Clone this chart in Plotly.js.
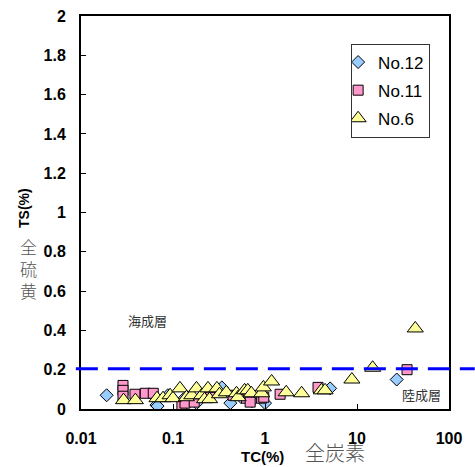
<!DOCTYPE html>
<html><head><meta charset="utf-8">
<script src="https://cdn.plot.ly/plotly-3.0.1.min.js"></script>
<style>html,body{margin:0;padding:0;background:#fff}#c{width:475px;height:467px}</style>
</head><body><div id="c"></div>
<script>
// ---- data ----
const no12_tc = [0.019, 0.066, 0.068, 0.088, 0.13, 0.18, 0.34, 0.42, 0.55, 0.72, 1.0, 5.1, 27];
const no12_ts = [0.07, 0.02, 0.015, 0.07, 0.05, 0.03, 0.11, 0.03, 0.06, 0.04, 0.03, 0.105, 0.15];

const no11_tc = [0.0286, 0.0286, 0.0286, 0.0386, 0.05, 0.061, 0.125, 0.135, 0.17, 0.25, 0.45, 0.63, 0.69, 0.92, 0.97, 1.46, 3.77, 35];
const no11_ts = [0.12, 0.095, 0.065, 0.075, 0.08, 0.08, 0.015, 0.03, 0.035, 0.06, 0.07, 0.055, 0.035, 0.055, 0.06, 0.075, 0.11, 0.2];

const no6_tc = [0.029, 0.039, 0.067, 0.078, 0.093, 0.1, 0.119, 0.14, 0.16, 0.18, 0.205, 0.22, 0.24, 0.25, 0.30, 0.32, 0.38, 0.49, 0.51, 0.6, 0.65, 0.71, 0.92, 0.96, 1.18, 1.7, 2.5, 4.1, 4.5, 8.8, 14.8, 43];
const no6_ts = [0.045, 0.045, 0.055, 0.055, 0.07, 0.055, 0.105, 0.06, 0.07, 0.105, 0.07, 0.05, 0.105, 0.05, 0.105, 0.075, 0.085, 0.08, 0.06, 0.095, 0.095, 0.08, 0.08, 0.11, 0.14, 0.085, 0.08, 0.095, 0.095, 0.15, 0.21, 0.41];

const seriesNames = ["No.12", "No.11", "No.6"];
const boundaryTS = 0.205;
const xTickVals = [0.01, 0.1, 1, 10, 100];
const xTickText = ["0.01", "0.1", "1", "10", "100"];
const yTickVals = [0, 0.2, 0.4, 0.6, 0.8, 1, 1.2, 1.4, 1.6, 1.8, 2];
const yTickText = ["0", "0.2", "0.4", "0.6", "0.8", "1", "1.2", "1.4", "1.6", "1.8", "2"];

const line = {color: "#000", width: 1};
const traces = [
  {x: no12_tc, y: no12_ts, name: seriesNames[0], type: "scatter", mode: "markers", legendgroup: "a",
   marker: {symbol: "diamond", size: 10, color: "#99CCFF", line: line}},
  {x: no11_tc, y: no11_ts, name: seriesNames[1], type: "scatter", mode: "markers", legendgroup: "b",
   marker: {symbol: "square", size: 10, color: "#FF99CC", line: line}},
  {x: no6_tc, y: no6_ts, name: seriesNames[2], type: "scatter", mode: "markers", legendgroup: "c",
   marker: {symbol: "triangle-up", size: 14, color: "#FFFF99", line: line}}
];

const sans = "Liberation Sans, Arial, sans-serif";
const tickFont = {family: sans, size: 16, color: "#000", weight: "bold"};
const layout = {
  width: 475, height: 467,
  margin: {l: 81, r: 26, t: 16, b: 58, pad: 0},
  paper_bgcolor: "#fff", plot_bgcolor: "#fff",
  showlegend: true,
  legend: {x: 0.734, y: 0.93, xanchor: "left", yanchor: "top", bgcolor: "#fff",
           bordercolor: "#333", borderwidth: 1, font: {family: sans, size: 17, color: "#000"},
           traceorder: "grouped", tracegroupgap: 3, indentation: -14},
  xaxis: {type: "log", range: [-2, 2], tickvals: xTickVals, ticktext: xTickText,
          ticks: "inside", ticklen: 5, tickcolor: "#000", tickwidth: 1,
          showline: true, linecolor: "#000", linewidth: 2, mirror: true,
          showgrid: false, zeroline: false, tickfont: tickFont, ticklabelstandoff: 14},
  yaxis: {range: [0, 2], tickvals: yTickVals, ticktext: yTickText,
          ticks: "inside", ticklen: 5, tickcolor: "#000", tickwidth: 1,
          showline: true, linecolor: "#000", linewidth: 2, mirror: true,
          showgrid: false, zeroline: false, tickfont: tickFont, ticklabelstandoff: 10},
  shapes: [{type: "line", xref: "paper", yref: "y", x0: -0.014, x1: 1.07, y0: boundaryTS, y1: boundaryTS,
            line: {color: "#0000FF", width: 3, dash: "22px,10px"}}],
  annotations: [
    {text: "TC(%)", xref: "paper", yref: "paper", x: (262 - 81) / 368, y: (409 - 456) / 393, xanchor: "center", yanchor: "middle",
     showarrow: false, font: {family: sans, size: 15, color: "#000", weight: "bold"}},
    {text: "全炭素", xref: "paper", yref: "paper", x: (335 - 81) / 368, y: (409 - 453) / 393, xanchor: "center", yanchor: "middle",
     showarrow: false, font: {family: "Noto Sans CJK JP", size: 20, color: "#555", weight: 300}},
    {text: "TS(%)", xref: "paper", yref: "paper", x: (24 - 81) / 368, y: (409 - 208) / 393, xanchor: "center", yanchor: "middle", textangle: -90,
     showarrow: false, font: {family: sans, size: 14, color: "#000", weight: "bold"}},
    {text: "全<br>硫<br>黄", xref: "paper", yref: "paper", x: (28 - 81) / 368, y: (409 - 268) / 393, xanchor: "center", yanchor: "middle",
     showarrow: false, font: {family: "Noto Sans CJK JP", size: 17, color: "#555", weight: 300}},
    {text: "海成層", xref: "paper", yref: "paper", x: 0.182, y: 0.2247, xanchor: "center", yanchor: "middle",
     showarrow: false, font: {family: "Noto Sans CJK JP", size: 13, color: "#333"}},
    {text: "陸成層", xref: "paper", yref: "paper", x: 0.926, y: 0.036, xanchor: "center", yanchor: "middle",
     showarrow: false, font: {family: "Noto Sans CJK JP", size: 13, color: "#333"}}
  ]
};
Plotly.newPlot("c", traces, layout, {displayModeBar: false, staticPlot: true});
</script></body></html>
